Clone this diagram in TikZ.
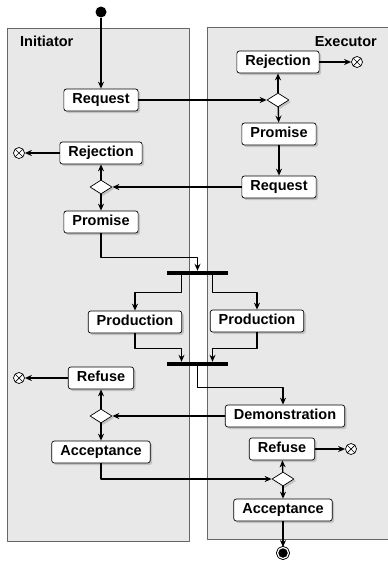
\documentclass[tikz,border=0pt]{standalone}
\usepackage{fontspec}
\setmainfont{Liberation Sans}
\usetikzlibrary{arrows.meta}
\usetikzlibrary{shapes.geometric}
\usetikzlibrary{shadows}

\begin{document}
\begin{tikzpicture}[x=1pt, y=-1pt, line join=bevel,
  lane/.style={draw=black!60, fill=black!9, line width=0.8pt},
  lanename/.style={font=\fontsize{14.5}{16}\selectfont\bfseries, inner sep=0pt},
  act/.style={draw, rounded corners=2.5pt, fill=white, line width=0.7pt,
    font=\fontsize{14.5}{16}\selectfont\bfseries, inner xsep=8.5pt, inner ysep=0pt,
    minimum height=22pt, text height=10.5pt, text depth=3pt,
    drop shadow={opacity=0.35, shadow xshift=2pt, shadow yshift=-2pt}},
  choice/.style={diamond, draw, fill=white, line width=0.7pt, minimum width=22pt,
    minimum height=14pt, inner sep=0pt,
    drop shadow={opacity=0.35, shadow xshift=2pt, shadow yshift=-2pt}},
  bar/.style={fill=black, minimum width=61pt, minimum height=4pt, inner sep=0pt},
  initial/.style={circle, fill=black, minimum size=11pt, inner sep=0pt},
  final/.style={circle, fill=black, draw=black, double=white, double distance=1.2pt,
    line width=0.9pt, minimum size=11pt, inner sep=0pt},
  stopx/.style={circle, draw, line width=0.7pt, fill=white, minimum size=11pt, inner sep=0pt,
    path picture={\draw (path picture bounding box.north west) -- (path picture bounding box.south east)
      (path picture bounding box.north east) -- (path picture bounding box.south west);}},
  flow/.style={line width=1.4pt, -{Stealth[length=7pt, width=6pt]}}]
  \useasboundingbox (0,0) rectangle (388,562);

  \draw[lane] (7,28) rectangle (189,541);
  \draw[lane] (207,27) rectangle (392,539);
  \node[lanename, anchor=base west] (initname) at (20,46.5) {Initiator};
  \node[lanename, anchor=base east] (execname) at (377,46.5) {Executor};

  \node[initial] (start) at (101,12) {};
  \node[act] (ireq) at (101,100) {Request};
  \node[act] (irej) at (101,153) {Rejection};
  \node[stopx] (irejx) at (19,153) {};
  \node[choice] (idec) at (101,187) {};
  \node[act] (ipro) at (101,222) {Promise};

  \node[act] (erej) at (278,62) {Rejection};
  \node[stopx] (erejx) at (357,62) {};
  \node[choice] (edec) at (278,100) {};
  \node[act] (epro) at (279,134) {Promise};
  \node[act] (ereq) at (279,187) {Request};

  \node[bar] (fork) at (197.5,273) {};
  \node[act] (lprod) at (135,322) {Production};
  \node[act] (rprod) at (257,321) {Production};
  \node[bar] (join) at (197.5,364) {};

  \node[act] (demo) at (285,416) {Demonstration};
  \node[act] (iref) at (101,378) {Refuse};
  \node[stopx] (irefx) at (19,378) {};
  \node[choice] (idec2) at (101,416) {};
  \node[act] (iacc) at (101,452) {Acceptance};

  \node[act] (eref) at (282,449) {Refuse};
  \node[stopx] (erefx) at (351,449) {};
  \node[choice] (edec2) at (283,479) {};
  \node[act] (eacc) at (283,510) {Acceptance};
  \node[final] (stop) at (283,553) {};

  \draw[flow] (start) -- (ireq);
  \draw[flow] (ireq) -- (edec);
  \draw[flow] (edec) -- (erej);
  \draw[flow] (erej) -- (erejx);
  \draw[flow] (edec) -- (epro);
  \draw[flow] (epro) -- (ereq);
  \draw[flow] (ereq) -- (idec);
  \draw[flow] (idec) -- (irej);
  \draw[flow] (irej) -- (irejx);
  \draw[flow] (idec) -- (ipro);
  \draw[flow] (ipro.south) -- ++(0,24) -| (fork.north);
  \draw[flow] ([xshift=-16pt]fork.south) -- ++(0,17) -| (lprod.north);
  \draw[flow] ([xshift=15pt]fork.south) -- ++(0,17) -| (rprod.north);
  \draw[flow] (lprod.south) -- ++(0,15) -| ([xshift=-16pt]join.north);
  \draw[flow] (rprod.south) -- ++(0,16) -| ([xshift=15pt]join.north);
  \draw[flow] (join.south) -- ++(0,21) -| ([xshift=-2pt]demo.north);
  \draw[flow] (demo) -- (idec2);
  \draw[flow] (idec2) -- (iref);
  \draw[flow] (iref) -- (irefx);
  \draw[flow] (idec2) -- (iacc);
  \draw[flow] (iacc.south) |- (edec2.west);
  \draw[flow] (edec2) -- (eref);
  \draw[flow] (eref) -- (erefx);
  \draw[flow] (edec2) -- (eacc);
  \draw[flow] (eacc) -- (stop);
\end{tikzpicture}
\end{document}
